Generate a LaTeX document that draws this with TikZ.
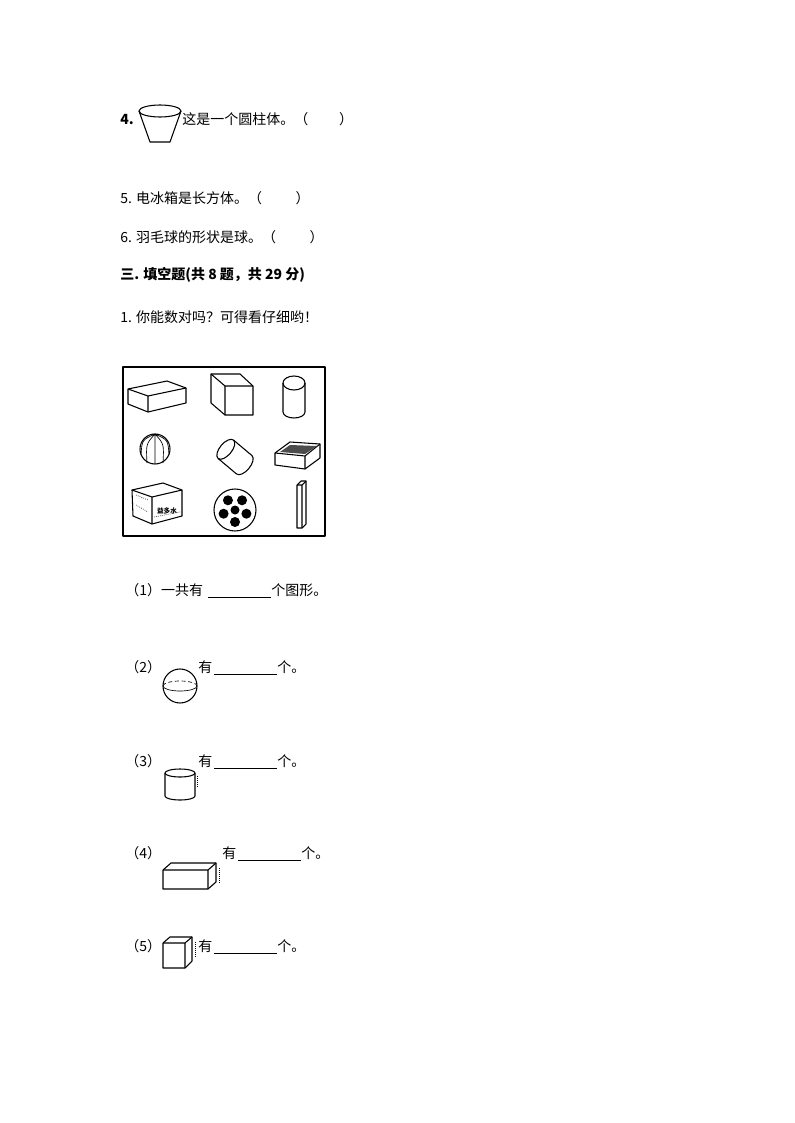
\documentclass[tikz,border=0pt]{standalone}
\usepackage{fontspec}
\newfontfamily\cjk{Noto Sans CJK SC}
\begin{document}
\begin{tikzpicture}[x=0.75pt,y=-0.75pt,line join=round,
  t/.style={anchor=west,inner sep=0pt,font=\cjk\fontsize{10.5pt}{12pt}\selectfont},
  sh/.style={draw,line width=0.8pt},
  thin/.style={draw,line width=0.5pt}]
\useasboundingbox (0,0) rectangle (794,1123);
% Q4 cup
\draw[sh] (160,111) ellipse (21 and 6);
\draw[sh] (139,111) -- (150,142) -- (170,142) -- (181,111);
\node[t] (q4n) at (120,120) {\textbf{4.}};
\node[t] (q4) at (182,119) {这是一个圆柱体。（\hspace{2.2em}）};
\node[t] (q5) at (120,198) {5. 电冰箱是长方体。（\hspace{2.4em}）};
\node[t] (q6) at (120,237) {6. 羽毛球的形状是球。（\hspace{2.4em}）};
\node[t] (h3) at (120,275) {\bfseries 三. 填空题(共 8 题，共 29 分)};
\node[t] (p1) at (120,317) {1. 你能数对吗？可得看仔细哟！};
% picture box
\draw[line width=0.8pt] (123,367) rectangle (325,536);
% row1: box
\draw[sh] (128,389) -- (167,381) -- (186,388) -- (186,403) -- (148,412) -- (128,404) -- cycle;
\draw[sh] (128,389) -- (148,396) -- (186,388) (148,396) -- (148,412);
% cube
\draw[sh] (211,374) -- (240,374) -- (253,386) -- (253,415) -- (225,415) -- (211,403) -- cycle;
\draw[sh] (211,374) -- (225,386) -- (253,386) (225,386) -- (225,415);
% cylinder
\draw[sh] (294,383) ellipse (11 and 7);
\draw[sh] (283,383) -- (283,412) arc (180:0:11 and 6) -- (305,383);
% row2: beach ball
\draw[sh] (155,449) circle (15);
\draw[thin] (155,434) -- (155,464) (155,434) .. controls (146,444) .. (147,463) (155,434) .. controls (164,444) .. (163,463) (155,434) .. controls (142,440) .. (141,455) (155,434) .. controls (168,440) .. (169,455);
% tilted cylinder
\begin{scope}[shift={(235,457)},rotate=-40]
\draw[sh] (-12,0) ellipse (6 and 12);
\draw[sh] (-12,-12) -- (12,-12) arc (-90:90:6 and 12) -- (-12,12);
\end{scope}
% tea box
\draw[sh] (275,453) -- (290,442) -- (320,444) -- (320,458) -- (305,469) -- (275,465) -- cycle;
\draw[sh] (275,453) -- (305,456) -- (320,444) (305,456) -- (305,469);
\fill[black!70] (290,445) -- (317,446) -- (305,454) -- (280,452) -- cycle;
% drink box
\draw[sh] (132,490) -- (163,483) -- (182,490) -- (182,516) -- (152,524) -- (133,516) -- cycle;
\draw[sh] (132,490) -- (152,497) -- (182,490) (152,497) -- (152,524);
\node[inner sep=0pt,font=\cjk\fontsize{5pt}{5pt}\selectfont] (dk) at (167,511) {\textbf{益多水}};
\draw[thin,densely dotted] (136,495) -- (148,500) (136,505) -- (148,512) (154,517) -- (180,512);
% soccer ball
\draw[sh] (235,510) circle (21);
\foreach \a in {90,162,234,306,18} \fill (235,510) ++(\a:12) circle (5);
\fill (235,510) circle (4.5);
% stick
\draw[sh] (297,485) -- (301,481) -- (306,481) -- (306,524) -- (302,528) -- (297,528) -- cycle;
\draw[sh] (297,485) -- (302,485) -- (306,481) (302,485) -- (302,528);
% (1)
\node[t] (s1) at (125,590) {（1）一共有};
\draw[line width=0.6pt] (208,597) -- (271,597);
\node[t] (s1b) at (271,590) {个图形。};
% (2)
\node[t] (s2) at (125,667) {（2）};
\draw[sh] (180,686) circle (17);
\draw[thin] (163,686) arc (180:0:17 and 5);
\draw[thin,densely dashed] (163,686) arc (180:360:17 and 5);
\node[t] (y2) at (198,667) {有};
\draw[line width=0.6pt] (214,674) -- (277,674);
\node[t] (y2b) at (277,667) {个。};
% (3)
\node[t] (s3) at (125,761) {（3）};
\draw[sh] (180,773) ellipse (15 and 4);
\draw[sh] (165,773) -- (165,796) arc (180:0:15 and 4) -- (195,773);
\draw[thin,densely dotted] (197,776) -- (197,788);
\node[t] (y3) at (198,761) {有};
\draw[line width=0.6pt] (214,768) -- (277,768);
\node[t] (y3b) at (277,761) {个。};
% (4)
\node[t] (s4) at (125,853) {（4）};
\draw[sh] (163,870) -- (171,863) -- (216,863) -- (216,882) -- (208,889) -- (163,889) -- cycle;
\draw[sh] (163,870) -- (208,870) -- (216,863) (208,870) -- (208,889);
\draw[thin,densely dotted] (219,868) -- (219,883);
\node[t] (y4) at (222,853) {有};
\draw[line width=0.6pt] (238,860) -- (301,860);
\node[t] (y4b) at (301,853) {个。};
% (5)
\node[t] (s5) at (125,946) {（5）};
\draw[sh] (163,943) -- (170,937) -- (192,937) -- (192,961) -- (185,968) -- (163,968) -- cycle;
\draw[sh] (163,943) -- (185,943) -- (192,937) (185,943) -- (185,968);
\draw[thin,densely dotted] (195,942) -- (195,957);
\node[t] (y5) at (198,946) {有};
\draw[line width=0.6pt] (214,953) -- (277,953);
\node[t] (y5b) at (277,946) {个。};
\end{tikzpicture}
\end{document}
